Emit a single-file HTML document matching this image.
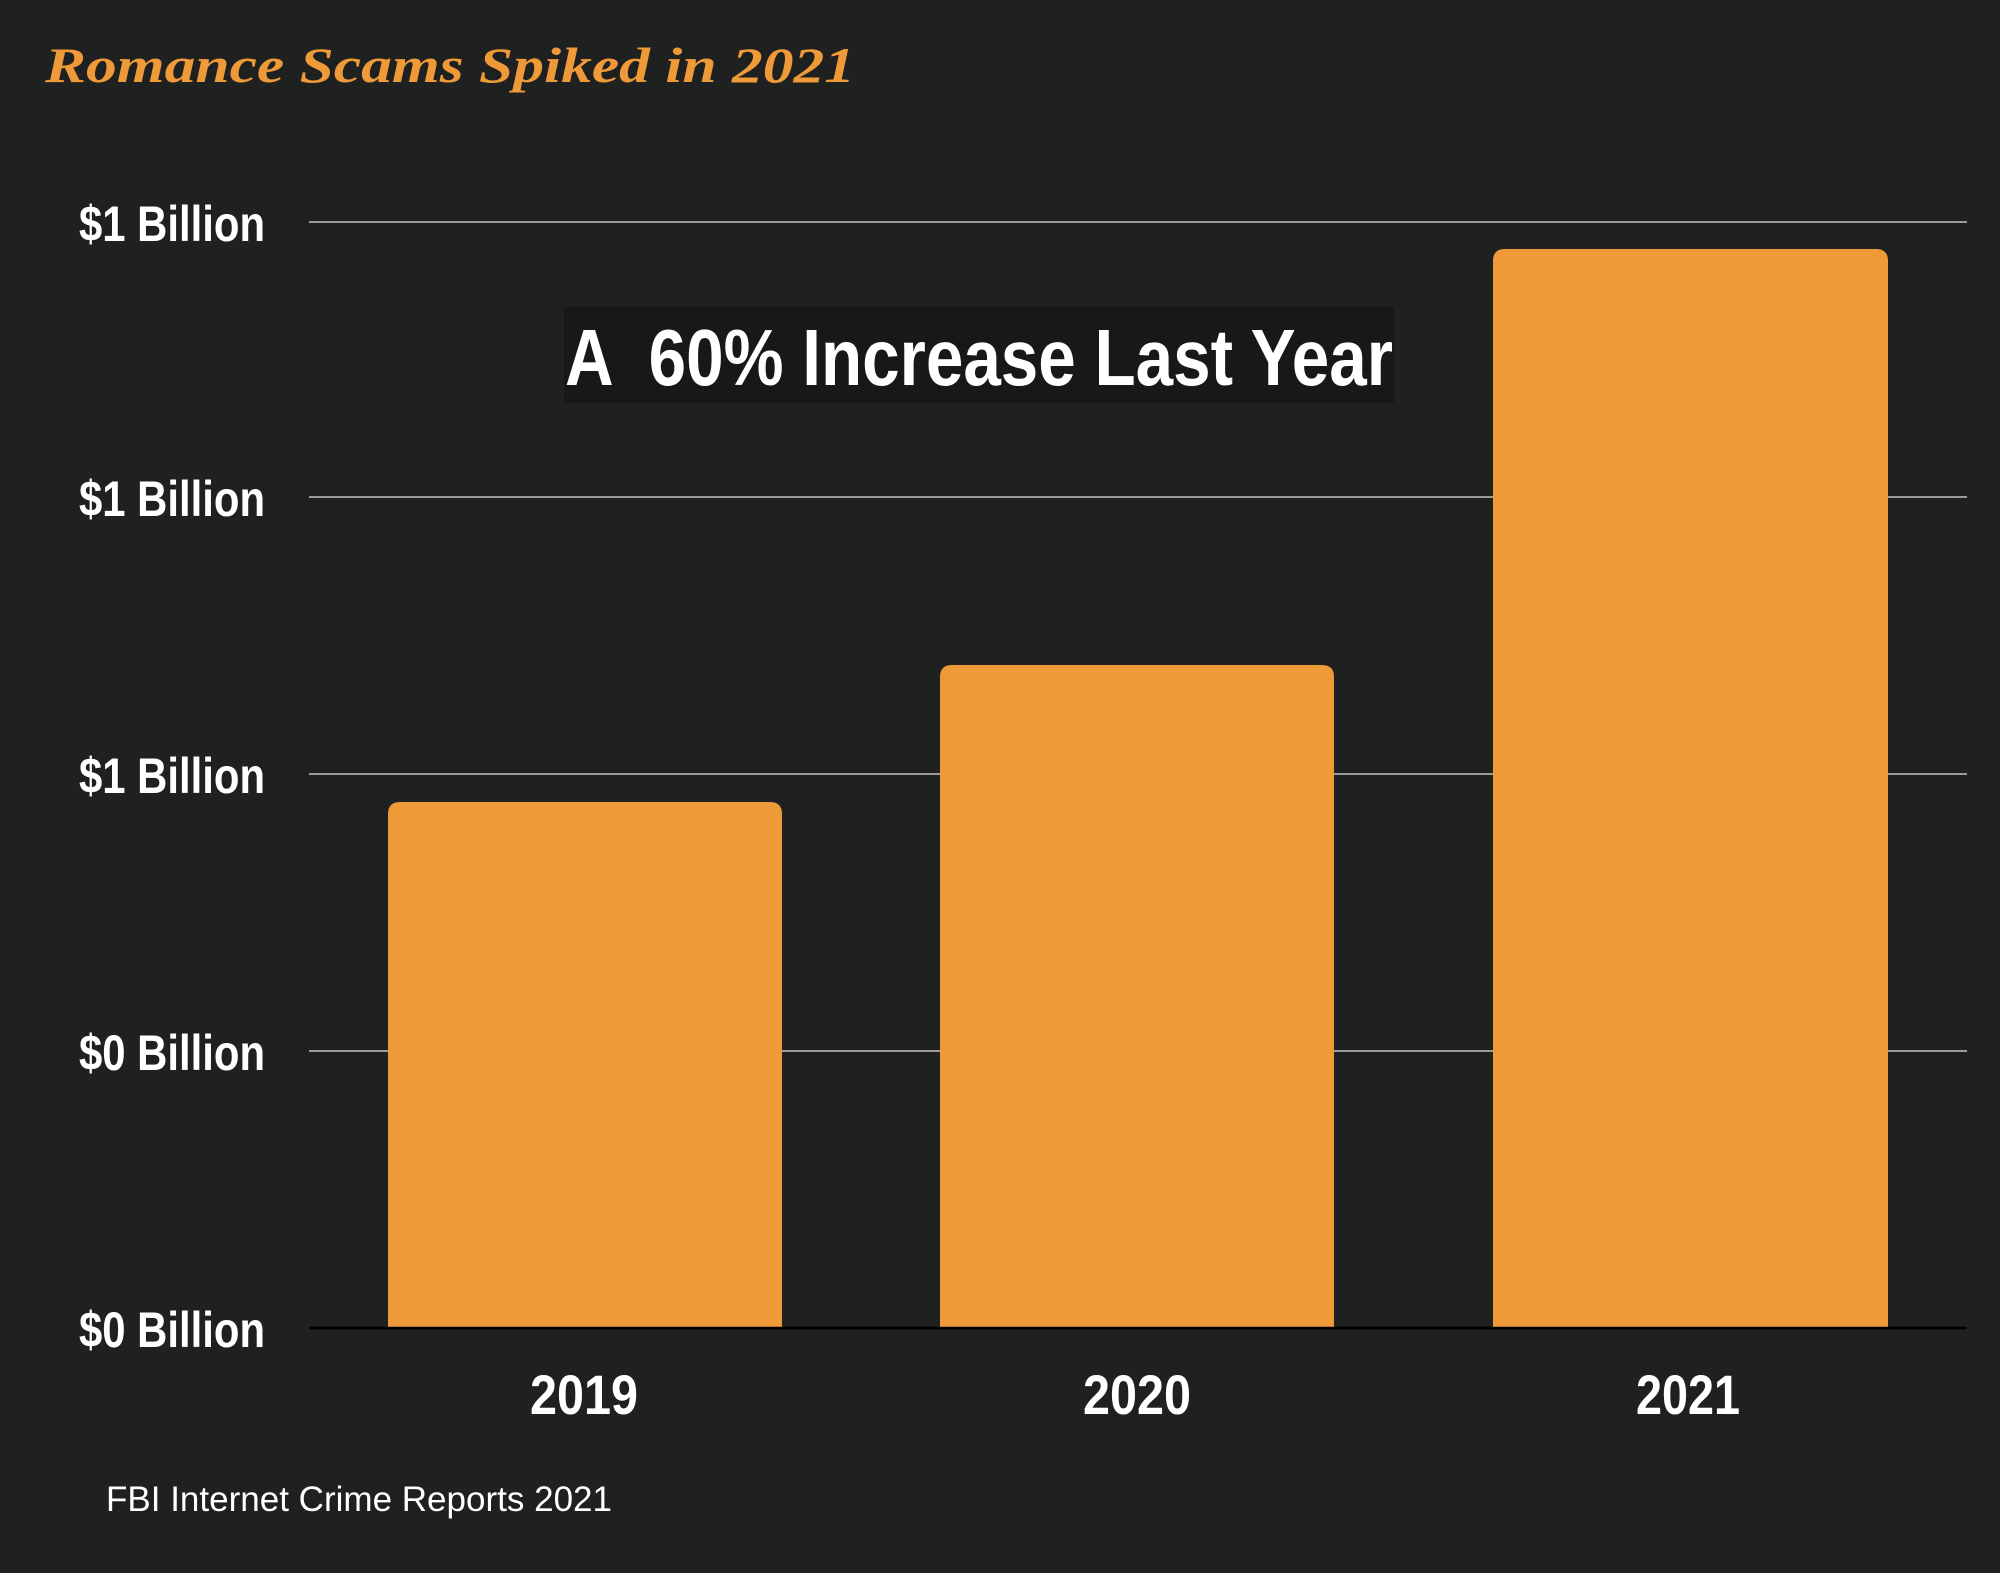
<!DOCTYPE html>
<html><head><meta charset="utf-8"><style>
html,body{margin:0;padding:0;background:#1f2020;}
svg{display:block;}
</style></head><body>
<svg width="2000" height="1573" viewBox="0 0 2000 1573" xmlns="http://www.w3.org/2000/svg">
<rect width="2000" height="1573" fill="#1f2020"/>
<text x="45" y="82" font-family="Liberation Serif, serif" font-style="italic" font-weight="bold" font-size="50" fill="#ef9a38" textLength="810" lengthAdjust="spacingAndGlyphs">Romance Scams Spiked in 2021</text>
<g stroke="#9a9a9a" stroke-width="2">
<line x1="309" y1="222" x2="1967" y2="222"/>
<line x1="309" y1="497" x2="1967" y2="497"/>
<line x1="309" y1="774" x2="1967" y2="774"/>
<line x1="309" y1="1051" x2="1967" y2="1051"/>
</g>
<g fill="#ef9a38">
<path d="M388 1328 V814 Q388 802 400 802 H770 Q782 802 782 814 V1328 Z"/>
<path d="M940 1328 V677 Q940 665 952 665 H1322 Q1334 665 1334 677 V1328 Z"/>
<path d="M1493 1328 V261 Q1493 249 1505 249 H1876 Q1888 249 1888 261 V1328 Z"/>
</g>
<line x1="309" y1="1328" x2="1967" y2="1328" stroke="#000" stroke-width="2.5"/>
<g font-family="Liberation Sans, sans-serif" font-weight="bold" font-size="50" fill="#fff">
<text x="79" y="241" textLength="186" lengthAdjust="spacingAndGlyphs">$1 Billion</text>
<text x="79" y="516" textLength="186" lengthAdjust="spacingAndGlyphs">$1 Billion</text>
<text x="79" y="793" textLength="186" lengthAdjust="spacingAndGlyphs">$1 Billion</text>
<text x="79" y="1070" textLength="186" lengthAdjust="spacingAndGlyphs">$0 Billion</text>
<text x="79" y="1347" textLength="186" lengthAdjust="spacingAndGlyphs">$0 Billion</text>
</g>
<g font-family="Liberation Sans, sans-serif" font-weight="bold" font-size="56" fill="#fff">
<text x="530" y="1414" textLength="108" lengthAdjust="spacingAndGlyphs">2019</text>
<text x="1083" y="1414" textLength="108" lengthAdjust="spacingAndGlyphs">2020</text>
<text x="1636" y="1414" textLength="104" lengthAdjust="spacingAndGlyphs">2021</text>
</g>
<rect x="564" y="307" width="830" height="96" fill="#171818"/>
<text x="565" y="385" font-family="Liberation Sans, sans-serif" font-weight="bold" font-size="80" fill="#fff" textLength="828" lengthAdjust="spacingAndGlyphs" xml:space="preserve">A  60% Increase Last Year</text>
<text x="106" y="1511" font-family="Liberation Sans, sans-serif" font-size="35" fill="#fff" textLength="506" lengthAdjust="spacingAndGlyphs">FBI Internet Crime Reports 2021</text>
</svg>
</body></html>
